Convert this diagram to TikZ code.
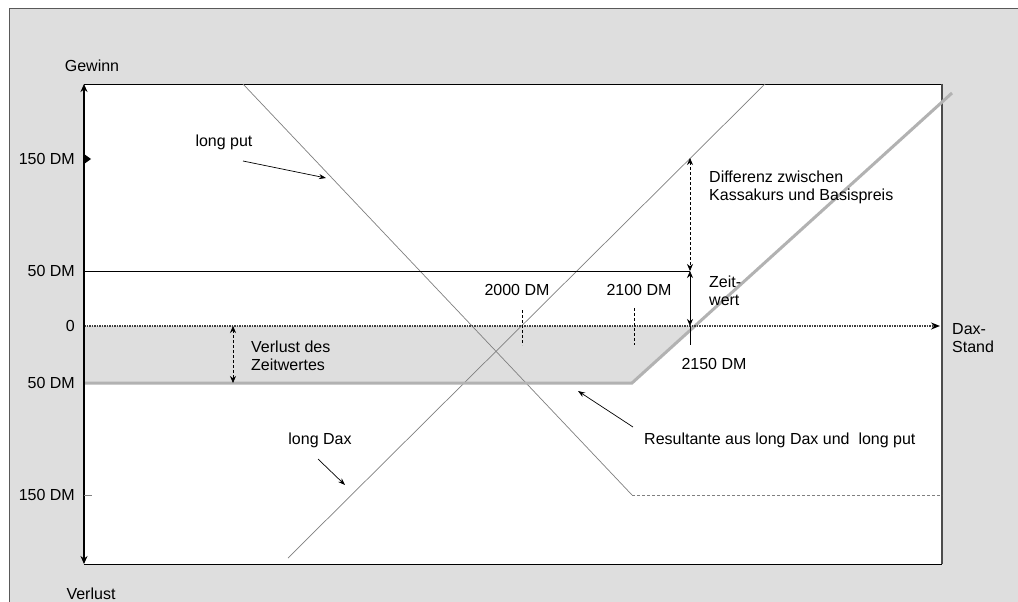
\documentclass[tikz,border=0pt]{standalone}
\usepackage{fontspec}
\setmainfont{Liberation Sans}
\usetikzlibrary{arrows.meta}

\definecolor{panel}{HTML}{DEDEDE}
\tikzset{
  lbl/.style={font=\fontsize{16}{18}\selectfont, inner sep=0pt},
  lbll/.style={lbl, anchor=west, align=left},
  payoff/.style={gray, line width=0.7pt},
  resline/.style={gray!60, line width=3pt},
  pointer/.style={-{Stealth[length=7pt,width=5pt]}, line width=0.7pt},
  span/.style={{Stealth[length=7pt,width=6pt]}-{Stealth[length=7pt,width=6pt]}, line width=0.7pt},
}

\begin{document}
\begin{tikzpicture}[x=1pt,y=-1pt]
    \useasboundingbox (0,0) rectangle (1018,602);
    % frame and plot area
    \fill[panel] (9,9) rectangle (1018,602);
    \draw[gray!70!black, line width=1pt] (9,602) -- (9,9) -- (1018,9);
    \fill[white] (84,84) rectangle (942,564);
    \draw[line width=0.8pt] (84,84) -- (942,84);
    \draw[line width=0.8pt] (84,564) -- (942,564);
    \draw[gray!60!black, line width=1.5pt] (942,84) -- (942,564);
    % loss band
    \fill[panel] (84,326) -- (695,326) -- (632,383) -- (84,383) -- cycle;

    % payoff lines
    \draw[payoff] (243,84) -- (632,495);
    \draw[payoff, densely dashed] (632,495) -- (942,495);
    \draw[payoff] (288,558) -- (765,84);
    \draw[line width=0.8pt] (84,271) -- (690,271);
    \draw[resline] (84,383) -- (632,383) -- (952,93);
    \draw[gray!50!black, line width=2.5pt, dash pattern=on 1.5pt off 1pt,
          -{Stealth[length=9pt,width=7pt,black]}] (84,326) -- (940,326);

    % axis
    \draw[line width=2pt, {Stealth[length=8pt,width=7pt]}-{Stealth[length=8pt,width=7pt]}] (84,84) -- (84,564);
    \fill (84,154) -- (91,159) -- (84,164) -- cycle;
    \draw[gray] (84,495) -- (92,495);
    \node[lbl] (gewinn) at (92,66) {Gewinn};
    \node[lbl] (verlust) at (91,594) {Verlust};
    \foreach \yv/\txt/\nm in {159/150 DM/y150, 271/50 DM/y50, 326/0/y0, 383/50 DM/ym50, 495/150 DM/ym150}
        \node[lbl, anchor=east] (\nm) at (75,\yv) {\txt};
    \node[lbll] (daxstand) at (952,338) {Dax-\\Stand};

    % strike marks
    \draw[densely dashed, line width=0.5pt] (522,310) -- (522,345);
    \draw[densely dashed, line width=0.5pt] (634,308) -- (634,345);
    \draw[line width=0.8pt] (690,326) -- (690,345);
    \node[lbl] (k2000) at (517,290) {2000 DM};
    \node[lbl] (k2100) at (639,290) {2100 DM};
    \node[lbl] (k2150) at (714,364) {2150 DM};

    % spans
    \draw[span, densely dashed] (690,158) -- (690,271);
    \draw[span] (690,271) -- (690,326);
    \draw[span, densely dashed] (233,326) -- (233,383);
    \node[lbll] (differenz) at (709,187) {Differenz zwischen\\Kassakurs und Basispreis};
    \node[lbll] (zeitwert) at (709,291) {Zeit-\\wert};
    \node[lbll] (verlustzw) at (251,356) {Verlust des\\Zeitwertes};

    % annotations
    \node[lbl] (longput) at (224,142) {long put};
    \coordinate (lp-from) at (243,161);
    \coordinate (lp-to) at (326,178);
    \draw[pointer] (lp-from) -- (lp-to);
    \node[lbl] (longdax) at (320,440) {long Dax};
    \coordinate (ld-from) at (318,459);
    \coordinate (ld-to) at (345,485);
    \draw[pointer] (ld-from) -- (ld-to);
    \node[lbll] (resultante) at (644,440) {Resultante aus long Dax und\ \ long put};
    \coordinate (rs-from) at (633,427);
    \coordinate (rs-to) at (578,391);
    \draw[pointer] (rs-from) -- (rs-to);
\end{tikzpicture}
\end{document}
